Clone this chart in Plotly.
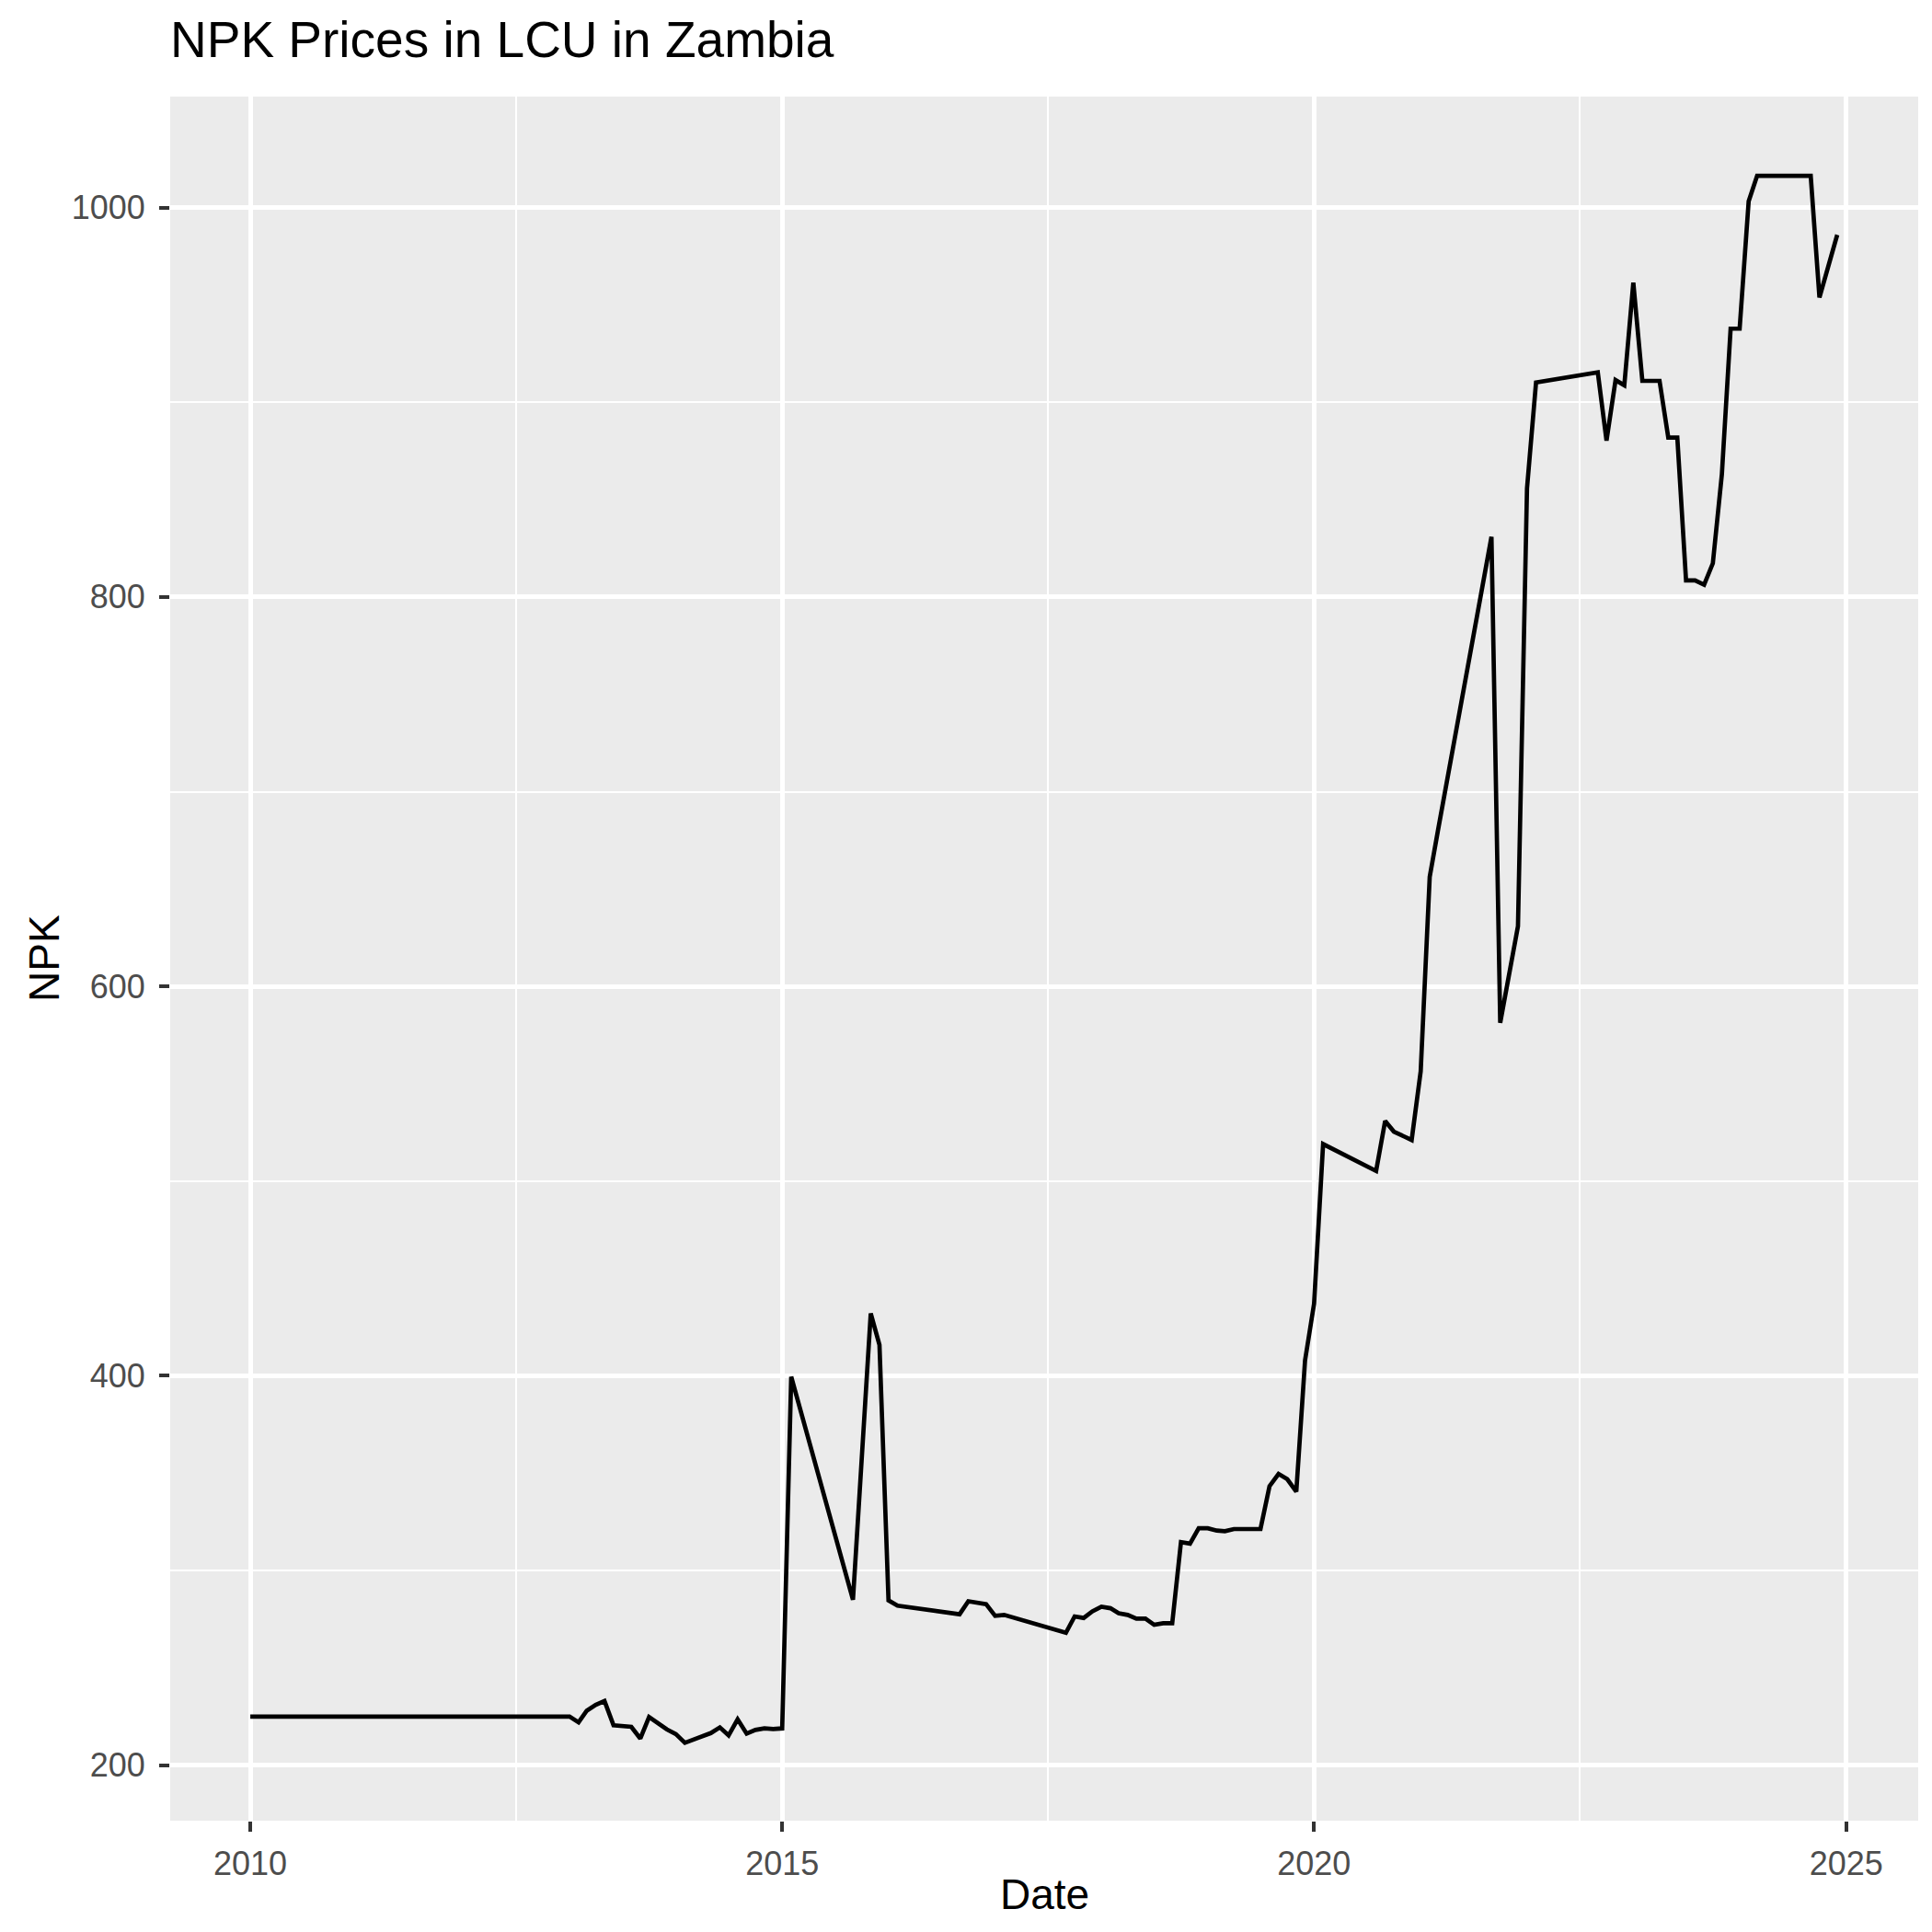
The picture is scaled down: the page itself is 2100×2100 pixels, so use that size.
import plotly.graph_objects as go

# monthly NPK price (LCU)
dates = [
    "2010-01-01", "2013-01-01", "2013-02-01", "2013-03-01", "2013-04-01", "2013-05-01",
    "2013-06-01", "2013-08-01", "2013-09-01", "2013-10-01", "2013-12-01", "2014-01-01",
    "2014-02-01", "2014-05-01", "2014-06-01", "2014-07-01", "2014-08-01", "2014-09-01",
    "2014-10-01", "2014-11-01", "2014-12-01", "2015-01-01", "2015-02-01", "2015-09-01",
    "2015-11-01", "2015-12-01", "2016-01-01", "2016-02-01", "2016-09-01", "2016-10-01",
    "2016-12-01", "2017-01-01", "2017-02-01", "2017-09-01", "2017-10-01", "2017-11-01",
    "2017-12-01", "2018-01-01", "2018-02-01", "2018-03-01", "2018-04-01", "2018-05-01",
    "2018-06-01", "2018-07-01", "2018-08-01", "2018-09-01", "2018-10-01", "2018-11-01",
    "2018-12-01", "2019-01-01", "2019-02-01", "2019-03-01", "2019-04-01", "2019-07-01",
    "2019-08-01", "2019-09-01", "2019-10-01", "2019-11-01", "2019-12-01", "2020-01-01",
    "2020-02-01", "2020-08-01", "2020-09-01", "2020-10-01", "2020-12-01", "2021-01-01",
    "2021-02-01", "2021-03-01", "2021-09-01", "2021-10-01", "2021-12-01", "2022-01-01",
    "2022-02-01", "2022-09-01", "2022-10-01", "2022-11-01", "2022-12-01", "2023-01-01",
    "2023-02-01", "2023-04-01", "2023-05-01", "2023-06-01", "2023-07-01", "2023-08-01",
    "2023-09-01", "2023-10-01", "2023-11-01", "2023-12-01", "2024-01-01", "2024-02-01",
    "2024-03-01", "2024-09-01", "2024-10-01", "2024-12-01",
]
npk = [
    225, 225, 222, 228, 231, 233,
    220.5, 219.7, 213.7, 224.7, 218.4, 216,
    211.5, 216.5, 219.4, 215.3, 223.6, 216.2,
    218.1, 218.9, 218.6, 218.9, 399.5, 285,
    432, 415.8, 284.6, 281.9, 277.5, 284.2,
    282.7, 276.7, 277.2, 268, 276.4, 275.6,
    279, 281.4, 280.6, 278, 277.2, 275.3,
    275.3, 272.1, 272.9, 272.9, 314.6, 313.8,
    321.7, 321.7, 320.5, 320.2, 321.3, 321.3,
    343.3, 349.6, 346.9, 340.5, 407.9, 437,
    519, 505.2, 530.9, 525.4, 521.1, 556.3,
    656.3, 679.8, 830.9, 581.3, 630.9, 855.8,
    910.2, 915.4, 880.3, 911.4, 908.7, 961.4,
    911, 911, 881.9, 881.9, 808.5, 808.5,
    806.3, 817.3, 863, 937.8, 937.8, 1003.3,
    1016.3, 1016.3, 953.8, 986,
]

font = "Liberation Sans, Arial, sans-serif"

fig = go.Figure()
fig.add_trace(go.Scatter(x=dates, y=npk, mode="lines",
                         line=dict(color="black", width=4.7), showlegend=False))

fig.update_layout(
    width=2100, height=2100,
    paper_bgcolor="white", plot_bgcolor="#EBEBEB",
    margin=dict(l=177, r=23, t=97, b=129),
    font=dict(family=font),
    title=dict(text="NPK Prices in LCU in Zambia", font=dict(size=55, color="black"),
               x=177 / 2100, xanchor="left", xref="container",
               y=1 - 15 / 2100, yanchor="top", yref="container"),
)

# axis titles placed like ggplot's
fig.add_annotation(text="Date", xref="paper", yref="paper", x=0.5, y=0,
                   xanchor="center", yanchor="top", yshift=-52, showarrow=False,
                   font=dict(size=46, color="black"))
fig.add_annotation(text="NPK", xref="paper", yref="paper", x=0, y=0.5,
                   xanchor="center", yanchor="middle", xshift=-137, textangle=-90,
                   showarrow=False, font=dict(size=46, color="black"))

fig.update_xaxes(
    type="date", range=["2009-04-01", "2025-09-05"],
    tick0="2010-01-01", dtick="M60", tickformat="%Y",
    showgrid=True, gridcolor="white", gridwidth=4.5,
    minor=dict(tick0="2010-01-01", dtick="M30", showgrid=True,
               gridcolor="white", gridwidth=2.3, ticklen=0),
    ticks="outside", ticklen=11, tickwidth=4, tickcolor="#333333",
    tickfont=dict(size=36, color="#4D4D4D"),
    ticklabelstandoff=4,
    zeroline=False, showline=False,
)
fig.update_yaxes(
    range=[171.5, 1057], tick0=200, dtick=200,
    showgrid=True, gridcolor="white", gridwidth=4.5,
    minor=dict(dtick=100, showgrid=True, gridcolor="white", gridwidth=2.3, ticklen=0),
    ticks="outside", ticklen=11, tickwidth=4, tickcolor="#333333",
    tickfont=dict(size=36, color="#4D4D4D"),
    ticklabelstandoff=8,
    zeroline=False, showline=False,
)

fig.write_html("out.html")
